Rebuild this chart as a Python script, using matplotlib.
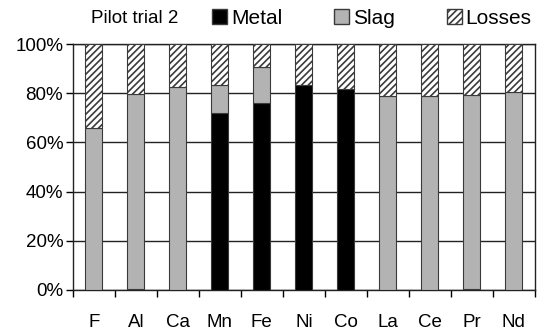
import matplotlib
matplotlib.use("Agg")
import matplotlib.pyplot as plt
import numpy as np
from matplotlib.patches import Patch
from matplotlib.ticker import FixedLocator, PercentFormatter

elements = ["F", "Al", "Ca", "Mn", "Fe", "Ni", "Co", "La", "Ce", "Pr", "Nd"]
metal = [0, 0.5, 0, 72.1, 75.9, 83.3, 81.6, 0, 0, 0.5, 0]
slag = [65.9, 79.0, 82.5, 11.1, 14.8, 0, 0, 78.9, 78.9, 78.6, 80.5]
losses = [100 - m - s for m, s in zip(metal, slag)]

plt.rcParams['font.family'] = ['Liberation Sans', 'DejaVu Sans']
plt.rcParams['hatch.linewidth'] = 1.2

fig = plt.figure(figsize=(5.44, 3.34), dpi=100)
ax = fig.add_axes([0.134, 0.132, 0.849, 0.736])

x = np.arange(len(elements))
w = 0.4
edge = '#3a3a3a'
ax.bar(x, metal, w, color='black', edgecolor=edge, linewidth=0.8, zorder=3)
ax.bar(x, slag, w, bottom=metal, color='#b3b3b3', edgecolor=edge, linewidth=0.8, zorder=3)
bottoms = [m + s for m, s in zip(metal, slag)]
ax.bar(x, losses, w, bottom=bottoms, color='white', edgecolor=edge,
       hatch='/////', linewidth=0.8, zorder=3)

ax.set_xlim(-0.5, len(elements) - 0.5)
ax.set_ylim(0, 100)
ax.set_yticks([0, 20, 40, 60, 80, 100])
ax.yaxis.set_major_formatter(PercentFormatter(decimals=0))
ax.yaxis.grid(True, color='#222222', linewidth=1.0)
ax.set_axisbelow(True)

ax.set_xticks(x)
ax.set_xticklabels(elements)
ax.xaxis.set_minor_locator(FixedLocator(np.arange(-0.5, len(elements), 1)))
ax.tick_params(axis='x', which='major', length=0, pad=17, labelsize=13.5)
ax.tick_params(axis='x', which='minor', length=5, width=1, direction='out')
ax.tick_params(axis='y', length=5, width=1, direction='out', labelsize=13.5, pad=2)

for s in ax.spines.values():
    s.set_color('#222222')
    s.set_linewidth(1.0)

fig.text(0.168, 0.945, "Pilot trial 2", fontsize=13.5, ha='left', va='center')
handles = [
    Patch(facecolor='black', edgecolor=edge, label='Metal'),
    Patch(facecolor='#b3b3b3', edgecolor=edge, label='Slag'),
    Patch(facecolor='white', edgecolor=edge, hatch='/////', label='Losses'),
]
fig.legend(handles=handles, ncol=3, frameon=False, fontsize=15,
           loc='center left', bbox_to_anchor=(0.39, 0.945),
           handlelength=0.7, handleheight=0.7, handletextpad=0.2,
           columnspacing=2.5, borderaxespad=0, borderpad=0)

fig.savefig("out.png", dpi=100)
